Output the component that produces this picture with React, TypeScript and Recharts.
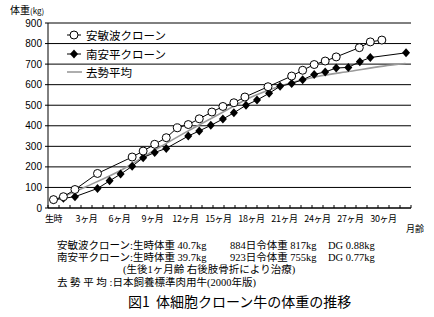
import React from 'react';
import { LineChart, Line, XAxis, YAxis, CartesianGrid } from 'recharts';

// 安敏波クローン (open circles)
const ANBINAMI_MONTHS = [0, 0.9, 1.95, 4, 7.15, 8.15, 9.2, 10.25, 11.25, 12.25, 13.25, 14.4, 15.4, 16.4, 17.4, 19.5, 21.65, 22.65, 23.7, 24.7, 25.7, 27.8, 28.8, 29.85];
const ANBINAMI_KG = [40.7, 55, 90, 168, 248, 277, 310, 342, 390, 406, 434, 467, 494, 512, 540, 590, 642, 670, 698, 715, 735, 780, 808, 817];

// 南安平クローン (filled diamonds)
const MINAMI_MONTHS = [0, 0.9, 1.95, 4, 5.1, 6.1, 7.15, 8.15, 9.2, 10.25, 12.25, 13.25, 14.3, 15.4, 16.4, 17.5, 18.5, 19.6, 20.6, 21.65, 22.65, 23.7, 24.7, 25.7, 26.8, 27.85, 28.8, 32.05];
const MINAMI_KG = [39.7, 47, 55, 95, 132, 165, 203, 245, 270, 290, 350, 375, 402, 433, 463, 500, 525, 558, 592, 606, 624, 650, 662, 681, 684, 712, 732, 755];

// 去勢平均 (standard, grey curve)
const AVG_MONTHS = [0, 3, 6, 9, 12, 15, 18, 21, 24, 27, 30, 32];
const AVG_KG = [35, 105, 180, 275, 368, 455, 540, 600, 640, 665, 690, 703];

const Y_TICKS = [0, 100, 200, 300, 400, 500, 600, 700, 800, 900];
const LABEL_MONTHS = [0, 3, 6, 9, 12, 15, 18, 21, 24, 27, 30];
const MONTH_MARKS = Array.from({ length: 34 }, (_, i) => i - 0.5);

const toRows = (months: number[], kg: number[]) => months.map((m, i) => ({ m, kg: kg[i] }));
const anbinami = toRows(ANBINAMI_MONTHS, ANBINAMI_KG);
const minami = toRows(MINAMI_MONTHS, MINAMI_KG);
const average = toRows(AVG_MONTHS, AVG_KG);

const JP = "'Noto Sans CJK JP', 'Liberation Sans', sans-serif";
const MIXED = "'Liberation Serif', 'Noto Sans CJK JP', serif";
const PRE = { whiteSpace: 'pre' as const };

const MonthTick = (props: any) => {
  const { x, y, payload } = props;
  const v = payload.value;
  if (Math.abs(v % 1) === 0.5) {
    return <line x1={x} x2={x} y1={y} y2={y - 3} stroke="#000" strokeWidth={1} />;
  }
  return (
    <text x={x} y={y + 14} textAnchor="middle" fontSize={9} letterSpacing={-0.4} fontFamily={JP} fill="#000">
      {v === 0 ? '生時' : `${v}ヶ月`}
    </text>
  );
};

const CircleDot = (props: any) => {
  const { cx, cy, index } = props;
  return <circle key={`c-${index}`} cx={cx} cy={cy} r={4} fill="#fff" stroke="#000" strokeWidth={1} />;
};

const DiamondDot = (props: any) => {
  const { cx, cy, index } = props;
  return (
    <polygon
      key={`d-${index}`}
      points={`${cx},${cy - 4.5} ${cx + 4},${cy} ${cx},${cy + 4.5} ${cx - 4},${cy}`}
      fill="#000"
    />
  );
};

const App: React.FC = () => {
  return (
    <div style={{ position: 'absolute', left: 0, top: 0, width: 434, height: 317, background: '#fff' }}>
      <LineChart width={434} height={317} margin={{ top: 23, right: 23, bottom: 79, left: 8 }}>
        <CartesianGrid yAxisId="w" horizontal vertical={false} stroke="#000" strokeWidth={1} />
        <XAxis
          type="number"
          dataKey="m"
          domain={[-0.5, 32.5]}
          ticks={[...MONTH_MARKS, ...LABEL_MONTHS]}
          interval={0}
          tick={<MonthTick />}
          tickLine={false}
          tickSize={0}
          tickMargin={0}
          height={30}
          axisLine={{ stroke: '#000' }}
          allowDuplicatedCategory={false}
        />
        <YAxis
          yAxisId="w"
          type="number"
          domain={[0, 900]}
          ticks={Y_TICKS}
          interval={0}
          width={40}
          tickSize={3}
          tickMargin={3}
          tickLine={{ stroke: '#000' }}
          axisLine={{ stroke: '#000' }}
          tick={{ fontSize: 10, fill: '#000', fontFamily: "'Liberation Sans', Arial, sans-serif" }}
        />
        <YAxis
          yAxisId="r"
          orientation="right"
          domain={[0, 900]}
          width={0}
          tick={false}
          tickLine={false}
          axisLine={{ stroke: '#000' }}
        />
        <Line
          yAxisId="w"
          data={average}
          dataKey="kg"
          type="monotone"
          stroke="#9a9a9a"
          strokeWidth={1.6}
          dot={false}
          isAnimationActive={false}
        />
        <Line
          yAxisId="w"
          data={minami}
          dataKey="kg"
          type="linear"
          stroke="#000"
          strokeWidth={1}
          dot={<DiamondDot />}
          isAnimationActive={false}
        />
        <Line
          yAxisId="w"
          data={anbinami}
          dataKey="kg"
          type="linear"
          stroke="#000"
          strokeWidth={1}
          dot={<CircleDot />}
          isAnimationActive={false}
        />
      </LineChart>

      <svg width={434} height={317} style={{ position: 'absolute', left: 0, top: 0, pointerEvents: 'none' }}>
        {/* axis titles */}
        <text x={10} y={14} fontSize={10} fontFamily={JP} fill="#000">
          体重<tspan fontSize={8}>(kg)</tspan>
        </text>
        <text x={406} y={232} fontSize={9} fontFamily={JP} fill="#000">月齢</text>

        {/* legend */}
        <line x1={67} x2={81} y1={35} y2={35} stroke="#000" />
        <circle cx={74} cy={35} r={4} fill="#fff" stroke="#000" />
        <text x={86} y={39.5} fontSize={11.5} fontFamily={JP} fill="#000">安敏波クローン</text>
        <line x1={67} x2={81} y1={54} y2={54} stroke="#000" />
        <polygon points="74,49.5 78,54 74,58.5 70,54" fill="#000" />
        <text x={86} y={58.5} fontSize={11.5} fontFamily={JP} fill="#000">南安平クローン</text>
        <line x1={67} x2={82} y1={72} y2={72} stroke="#9a9a9a" strokeWidth={1.6} />
        <text x={86} y={76.5} fontSize={11.5} fontFamily={JP} fill="#000">去勢平均</text>

        {/* notes */}
        <g fontSize={10.5} fontFamily={MIXED} fill="#000" style={PRE}>
          <text x={57} y={249}>安敏波クローン:生時体重 40.7kg</text>
          <text x={230} y={249}>884日令体重 817kg</text>
          <text x={328} y={249}>DG  0.88kg</text>
          <text x={57} y={261}>南安平クローン:生時体重 39.7kg</text>
          <text x={230} y={261}>923日令体重 755kg</text>
          <text x={328} y={261}>DG  0.77kg</text>
          <text x={123} y={273}>(生後1ヶ月齢  右後肢骨折により治療)</text>
          <text x={57} y={286}>去  勢  平  均  :日本飼養標準肉用牛(2000年版)</text>
        </g>
        <text x={128} y={307} fontSize={14} fontFamily={JP} fill="#000" style={PRE}>図1  体細胞クローン牛の体重の推移</text>
      </svg>
    </div>
  );
};

export default App;
